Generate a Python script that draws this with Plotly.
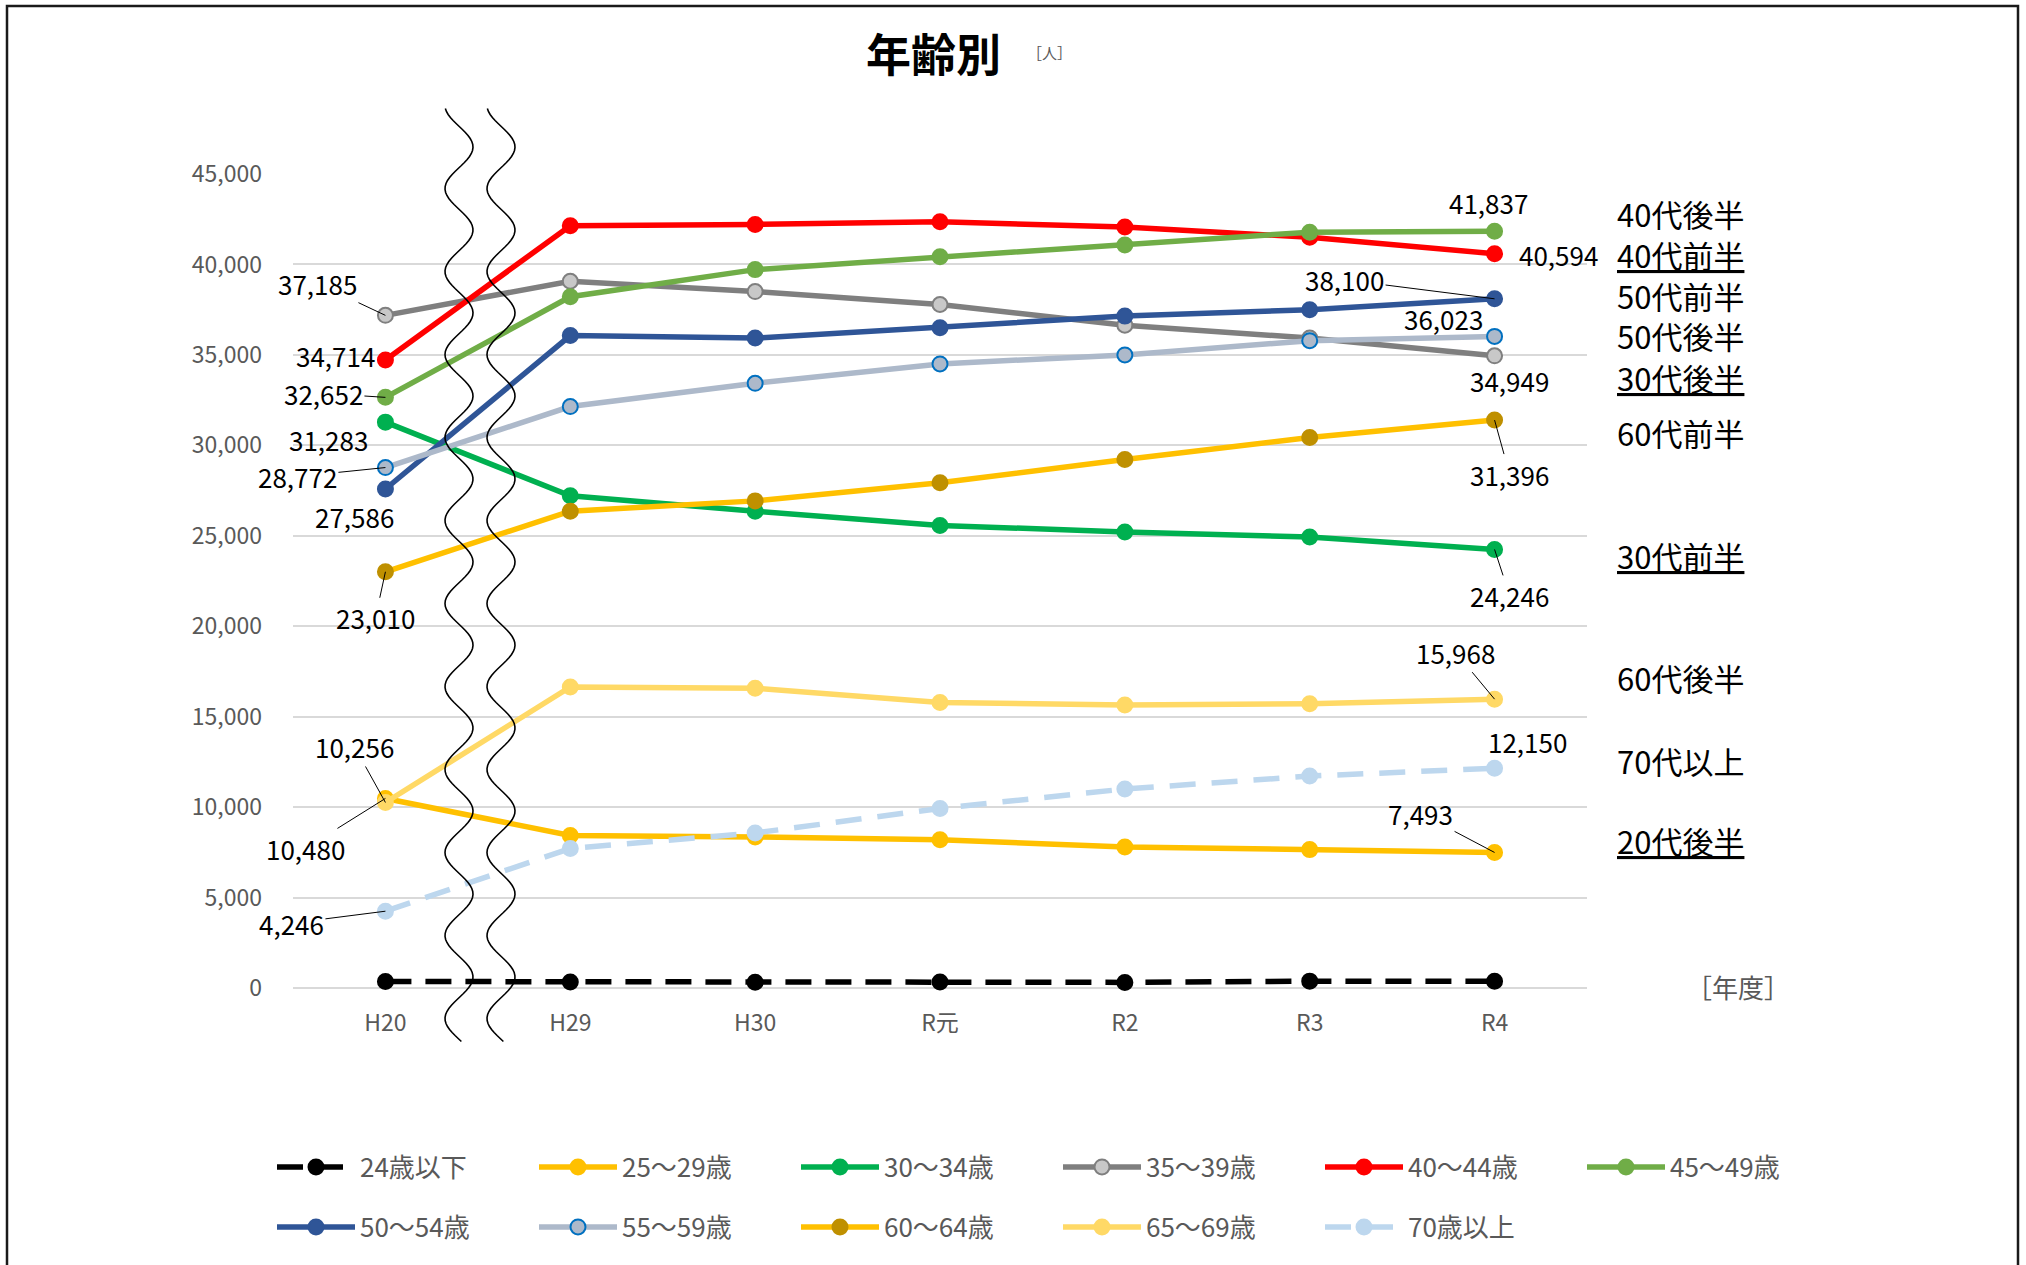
import math
import plotly.graph_objects as go

# ---------------- data ----------------
categories = ["H20", "H29", "H30", "R元", "R2", "R3", "R4"]

series_names = ["24歳以下", "25～29歳", "30～34歳", "35～39歳", "40～44歳", "45～49歳",
                "50～54歳", "55～59歳", "60～64歳", "65～69歳", "70歳以上"]

v_24 = [360, 330, 320, 330, 310, 380, 370]
v_25_29 = [10480, 8430, 8350, 8200, 7800, 7650, 7493]
v_30_34 = [31283, 27214, 26357, 25571, 25214, 24929, 24246]
v_35_39 = [37185, 39072, 38500, 37786, 36643, 35929, 34949]
v_40_44 = [34714, 42143, 42214, 42357, 42071, 41500, 40594]
v_45_49 = [32652, 38214, 39714, 40429, 41071, 41786, 41837]
v_50_54 = [27586, 36071, 35929, 36500, 37143, 37500, 38100]
v_55_59 = [28772, 32143, 33429, 34500, 35000, 35786, 36023]
v_60_64 = [23010, 26357, 26929, 27929, 29214, 30429, 31396]
v_65_69 = [10256, 16643, 16571, 15786, 15643, 15714, 15968]
v_70 = [4246, 7714, 8571, 9929, 11000, 11714, 12150]

values = [v_24, v_25_29, v_30_34, v_35_39, v_40_44, v_45_49,
          v_50_54, v_55_59, v_60_64, v_65_69, v_70]

y_ticks = [0, 5000, 10000, 15000, 20000, 25000, 30000, 35000, 40000, 45000]

# right-hand group labels: (text, underlined)
group_labels = [("40代後半", False), ("40代前半", True), ("50代前半", False),
                ("50代後半", False), ("30代後半", True), ("60代前半", False),
                ("30代前半", True), ("60代後半", False), ("70代以上", False),
                ("20代後半", True)]
group_label_y = [213, 255, 295, 335, 377, 432, 555, 677, 760, 840]  # pixel rows

# ---------------- styles ----------------
line_colors = ["#000000", "#FFC000", "#00B050", "#7F7F7F", "#FF0000", "#70AD47",
               "#2F5597", "#ADB9CA", "#FFC000", "#FFD966", "#BDD7EE"]
marker_fill = ["#000000", "#FFC000", "#00B050", "#C8C8C8", "#FF0000", "#70AD47",
               "#2F5597", "#ADB9CA", "#BF9000", "#FFD966", "#BDD7EE"]
marker_line = ["#000000", "#FFC000", "#00B050", "#7F7F7F", "#FF0000", "#70AD47",
               "#2F5597", "#0070C0", "#BF9000", "#FFD966", "#BDD7EE"]
dashes = ["26px,14px", "solid", "solid", "solid", "solid", "solid",
          "solid", "solid", "solid", "solid", "26px,16px"]

FONT = "Noto Sans CJK JP"
W, H = 2026, 1265
PL, PR, PT, PB = 293, 1587, 174, 988   # plot area in pixels


def px2paper(px, py):
    return (px - PL) / (PR - PL), (PB - py) / (PB - PT)


fig = go.Figure()
for i, name in enumerate(series_names):
    fig.add_trace(go.Scatter(
        x=categories, y=values[i], name=name, mode="lines+markers",
        line=dict(color=line_colors[i], width=5.5, dash=dashes[i]),
        marker=dict(size=15, color=marker_fill[i],
                    line=dict(color=marker_line[i], width=2)),
        cliponaxis=False,
        legend="legend" if i < 6 else "legend2",
    ))

# ---------------- data labels ----------------
# (series index, category index, dx, dy, leader line)
label_specs = [
    (3, 0, -68, -32, True), (4, 0, -50, -5, False), (5, 0, -62, -4, True),
    (2, 0, -57, 17, False), (7, 0, -88, 9, True), (6, 0, -31, 27, False),
    (8, 0, -10, 46, True), (9, 0, -31, -56, True), (1, 0, -80, 50, True),
    (10, 0, -94, 12, True),
    (5, 6, -6, -29, False), (4, 6, 64, 1, False), (6, 6, -150, -19, True),
    (7, 6, -51, -18, False), (3, 6, 15, 25, False), (8, 6, 15, 54, True),
    (2, 6, 15, 46, True), (9, 6, -39, -47, True), (10, 6, 33, -27, False),
    (1, 6, -74, -39, True),
]
annotations = []
for si, ci, dx, dy, leader in label_specs:
    annotations.append(dict(
        x=categories[ci], y=values[si][ci], xref="x", yref="y",
        text=f"{values[si][ci]:,}", showarrow=True, ax=dx, ay=dy,
        arrowhead=0, arrowwidth=1,
        arrowcolor="#000000" if leader else "rgba(0,0,0,0)",
        font=dict(family=FONT, size=26, color="#000000"),
    ))

# right-side group labels
for (txt, ul), py in zip(group_labels, group_label_y):
    x, y = px2paper(1615, py)
    annotations.append(dict(
        x=x, y=y, xref="paper", yref="paper", xanchor="left", yanchor="middle",
        text=f"<u>{txt}</u>" if ul else txt, showarrow=False,
        font=dict(family=FONT, size=31, color="#000000"),
    ))

# title and unit labels
tx, ty = px2paper(933, 52)
annotations.append(dict(x=tx, y=ty, xref="paper", yref="paper", showarrow=False,
                        xanchor="center", yanchor="middle",
                        text="<b>年齢別</b>", font=dict(family=FONT, size=45, color="#000000")))
ux, uy = px2paper(1049, 52)
annotations.append(dict(x=ux, y=uy, xref="paper", yref="paper", showarrow=False,
                        xanchor="center", yanchor="middle",
                        text="［人］", font=dict(family=FONT, size=15, color="#595959")))
nx, ny = px2paper(1738, 986)
annotations.append(dict(x=nx, y=ny, xref="paper", yref="paper", showarrow=False,
                        xanchor="center", yanchor="middle",
                        text="［年度］", font=dict(family=FONT, size=26, color="#595959")))

# ---------------- break marks (wavy lines) ----------------
shapes = []
for cx in (459, 501):
    pts = []
    y = 108.5
    while y <= 1044:
        xx = cx + 14 * math.cos(2 * math.pi * (y - 230) / 83)
        pts.append(px2paper(xx, y))
        y += 3
    path = "M " + " L ".join(f"{p[0]:.5f},{p[1]:.5f}" for p in pts)
    shapes.append(dict(type="path", path=path, xref="paper", yref="paper",
                       line=dict(color="#000000", width=1.6), layer="above"))

# chart border
bx0, by0 = px2paper(7, 6)
bx1, by1 = px2paper(2018, 1275)
shapes.append(dict(type="rect", xref="paper", yref="paper", x0=bx0, y0=by1, x1=bx1, y1=by0,
                   line=dict(color="#1a1a1a", width=2.5), layer="above"))

lx, l1y = px2paper(272, 1167)
_, l2y = px2paper(272, 1227)
legend_common = dict(orientation="h", xanchor="left", yanchor="middle",
                     font=dict(family=FONT, size=26, color="#595959"),
                     entrywidth=169, entrywidthmode="pixels", itemwidth=78,
                     bgcolor="rgba(0,0,0,0)")

fig.update_layout(
    width=W, height=H,
    margin=dict(l=PL, r=W - PR, t=PT, b=H - PB),
    paper_bgcolor="#FFFFFF", plot_bgcolor="#FFFFFF",
    showlegend=True,
    legend=dict(x=lx, y=l1y, **legend_common),
    legend2=dict(x=lx, y=l2y, **legend_common),
    xaxis=dict(type="category", range=[-0.5, 6.5], showgrid=False, zeroline=False,
               showline=False, ticks="", ticklabelstandoff=19,
               tickfont=dict(family=FONT, size=23, color="#595959")),
    yaxis=dict(range=[0, 45000], tickvals=y_ticks, tickformat=",", showgrid=True,
               gridcolor="#D9D9D9", gridwidth=2, zeroline=True, zerolinecolor="#D9D9D9",
               zerolinewidth=2, showline=False, ticks="", ticklabelstandoff=30,
               tickfont=dict(family=FONT, size=23, color="#595959")),
    annotations=annotations,
    shapes=shapes,
)

fig.write_html("out.html")
